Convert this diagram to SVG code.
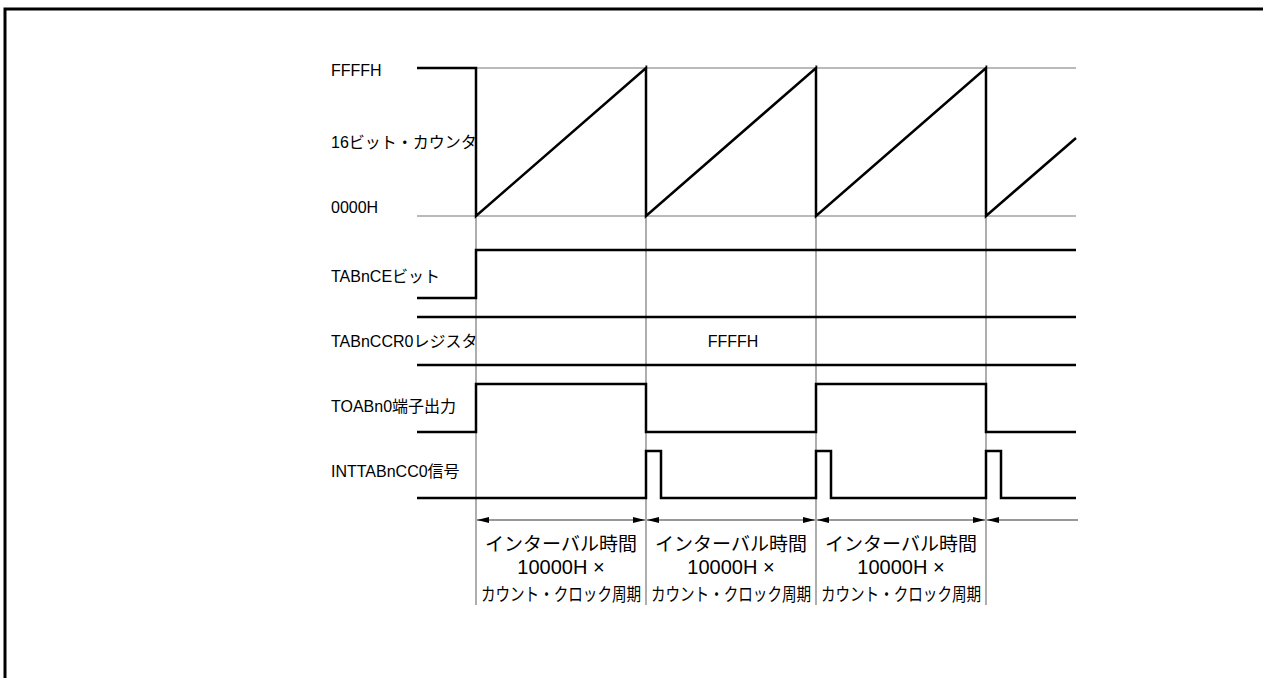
<svg xmlns="http://www.w3.org/2000/svg" width="1263" height="678" viewBox="0 0 1263 678">
<style>
.frame{stroke:#000;stroke-width:3;fill:none}
.grid{stroke:#777;stroke-width:1.2;fill:none}
.sig{stroke:#000;stroke-width:2.5;fill:none;stroke-linejoin:miter}
.dim{stroke:#333;stroke-width:1.2;fill:none}
.lbl{font-family:"Liberation Sans","Noto Sans CJK JP",sans-serif;font-size:16px;fill:#000}
.bt{font-family:"Liberation Sans","Noto Sans CJK JP",sans-serif;font-size:19px;fill:#000;text-anchor:middle}
.bt2{font-family:"Liberation Sans","Noto Sans CJK JP",sans-serif;font-size:20px;fill:#000;text-anchor:middle}
.bt3{font-family:"Liberation Sans","Noto Sans CJK JP",sans-serif;font-size:18px;fill:#000;text-anchor:middle}
</style>
<defs>
<marker id="ah" viewBox="0 0 12 6" refX="12" refY="3" markerWidth="12" markerHeight="6" markerUnits="userSpaceOnUse" orient="auto-start-reverse">
<path d="M0,0 L12,3 L0,6 Z" fill="#000"/>
</marker>
</defs>
<g id="frame">
<path class="frame" d="M5,678 V9 H1263"/>
</g>
<g id="labels">
<text class="lbl" x="331" y="76">FFFFH</text>
<text class="lbl" x="331" y="148">16ビット・カウンタ</text>
<text class="lbl" x="331" y="213">0000H</text>
<text class="lbl" x="331" y="282">TABnCEビット</text>
<text class="lbl" x="331" y="347">TABnCCR0レジスタ</text>
<text class="lbl" x="331" y="412">TOABn0端子出力</text>
<text class="lbl" x="331" y="477">INTTABnCC0信号</text>
</g>
<g id="grid">
<line class="grid" x1="476" y1="68" x2="1076" y2="68"/>
<line class="grid" x1="417" y1="216" x2="1076" y2="216"/>
<line class="grid" x1="476" y1="216" x2="476" y2="605"/>
<line class="grid" x1="646" y1="65" x2="646" y2="605"/>
<line class="grid" x1="816" y1="65" x2="816" y2="605"/>
<line class="grid" x1="986" y1="65" x2="986" y2="605"/>
</g>
<g id="counter">
<path class="sig" d="M417,68 H476 V216 L646,68 V216 L816,68 V216 L986,68 V216 L1076,138"/>
</g>
<g id="tabnce">
<path class="sig" d="M417,298 H476 V250 H1076"/>
</g>
<g id="tabnccr0">
<line class="sig" x1="417" y1="317" x2="1076" y2="317"/>
<line class="sig" x1="417" y1="365" x2="1076" y2="365"/>
<text class="lbl" x="733" y="347" text-anchor="middle">FFFFH</text>
</g>
<g id="toabn0">
<path class="sig" d="M417,432 H476 V384 H646 V432 H816 V384 H986 V432 H1076"/>
</g>
<g id="inttabncc0">
<path class="sig" d="M417,498 H646 V451 H661 V498 H816 V451 H831 V498 H986 V451 H1001 V498 H1076"/>
</g>
<g id="connectors">
<line class="dim" x1="477" y1="520" x2="645" y2="520" marker-start="url(#ah)" marker-end="url(#ah)"/>
<line class="dim" x1="647" y1="520" x2="815" y2="520" marker-start="url(#ah)" marker-end="url(#ah)"/>
<line class="dim" x1="817" y1="520" x2="985" y2="520" marker-start="url(#ah)" marker-end="url(#ah)"/>
<line class="dim" x1="987" y1="520" x2="1078" y2="520" marker-start="url(#ah)"/>
</g>
<g id="interval1">
<text class="bt" x="561" y="551">インターバル時間</text>
<text class="bt2" x="561" y="574">10000H ×</text>
<text class="bt3" transform="translate(561,601) scale(0.81,1)">カウント・クロック周期</text>
</g>
<g id="interval2">
<text class="bt" x="731" y="551">インターバル時間</text>
<text class="bt2" x="731" y="574">10000H ×</text>
<text class="bt3" transform="translate(731,601) scale(0.81,1)">カウント・クロック周期</text>
</g>
<g id="interval3">
<text class="bt" x="901" y="551">インターバル時間</text>
<text class="bt2" x="901" y="574">10000H ×</text>
<text class="bt3" transform="translate(901,601) scale(0.81,1)">カウント・クロック周期</text>
</g>
</svg>
